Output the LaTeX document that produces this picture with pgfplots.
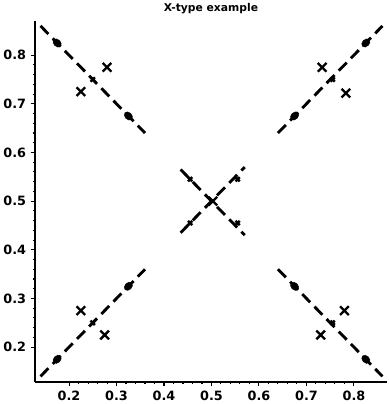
\documentclass[border=0pt]{standalone}
\usepackage{fontspec}
\setmainfont{DejaVu Sans}
\usepackage{pgfplots}
\pgfplotsset{compat=1.18}
\begin{document}
\begin{tikzpicture}
\begin{axis}[
  scale only axis, width=344pt, height=353pt,
  xmin=0.128, xmax=0.87, ymin=0.128, ymax=0.871,
  axis x line=bottom, axis y line=left,
  axis line style={-, line width=1.8pt},
  xtick={0.2,0.3,0.4,0.5,0.6,0.7,0.8},
  ytick={0.2,0.3,0.4,0.5,0.6,0.7,0.8},
  /pgf/number format/assume math mode=true,
  /pgf/number format/fixed, /pgf/number format/precision=1, /pgf/number format/fixed zerofill,
  tick label style={font=\fontsize{12.5}{14}\selectfont\bfseries},
  xticklabel style={yshift=-1pt},
  yticklabel style={xshift=-1pt},
  title={X-type example},
  title style={font=\fontsize{10.5}{12}\selectfont\bfseries, yshift=-3pt},
  tick align=outside, major tick length=4pt, minor tick length=2pt, minor tick num=4,
  tick style={black, line width=1pt},
  clip=false,
]
% dashed lines
\addplot[black, line width=2.8pt, dash pattern=on 11pt off 6pt] coordinates {(0.14,0.14) (0.36,0.36)};
\addplot[black, line width=2.8pt, dash pattern=on 11pt off 6pt] coordinates {(0.14,0.86) (0.36,0.64)};
\addplot[black, line width=2.8pt, dash pattern=on 11pt off 6pt] coordinates {(0.64,0.64) (0.86,0.86)};
\addplot[black, line width=2.8pt, dash pattern=on 11pt off 6pt] coordinates {(0.64,0.36) (0.86,0.14)};
\addplot[black, line width=2.8pt, dash pattern=on 11pt off 6pt] coordinates {(0.435,0.435) (0.57,0.57)};
\addplot[black, line width=2.8pt, dash pattern=on 11pt off 6pt] coordinates {(0.435,0.565) (0.57,0.43)};
% dots (elongated along their line)
\addplot[only marks, mark=*, mark size=3.4pt, black, mark options={rotate=45, xscale=1.35}] coordinates {
 (0.175,0.175) (0.325,0.325) (0.675,0.675) (0.825,0.825)};
\addplot[only marks, mark=*, mark size=3.4pt, black, mark options={rotate=-45, xscale=1.35}] coordinates {
 (0.175,0.825) (0.325,0.675) (0.675,0.325) (0.825,0.175)};
% small crosses on lines
\addplot[only marks, mark=x, mark size=3pt, black, line width=2.4pt] coordinates {
 (0.25,0.25) (0.25,0.75) (0.755,0.75) (0.755,0.25)
 (0.455,0.455) (0.455,0.545) (0.555,0.545) (0.555,0.455)};
% big X marks
\addplot[only marks, mark=x, mark size=6pt, black, line width=2.3pt] coordinates {
 (0.225,0.275) (0.275,0.225) (0.225,0.725) (0.28,0.775)
 (0.733,0.775) (0.783,0.722) (0.73,0.225) (0.78,0.275)
 (0.503,0.5)};
\end{axis}
\end{tikzpicture}
\end{document}
